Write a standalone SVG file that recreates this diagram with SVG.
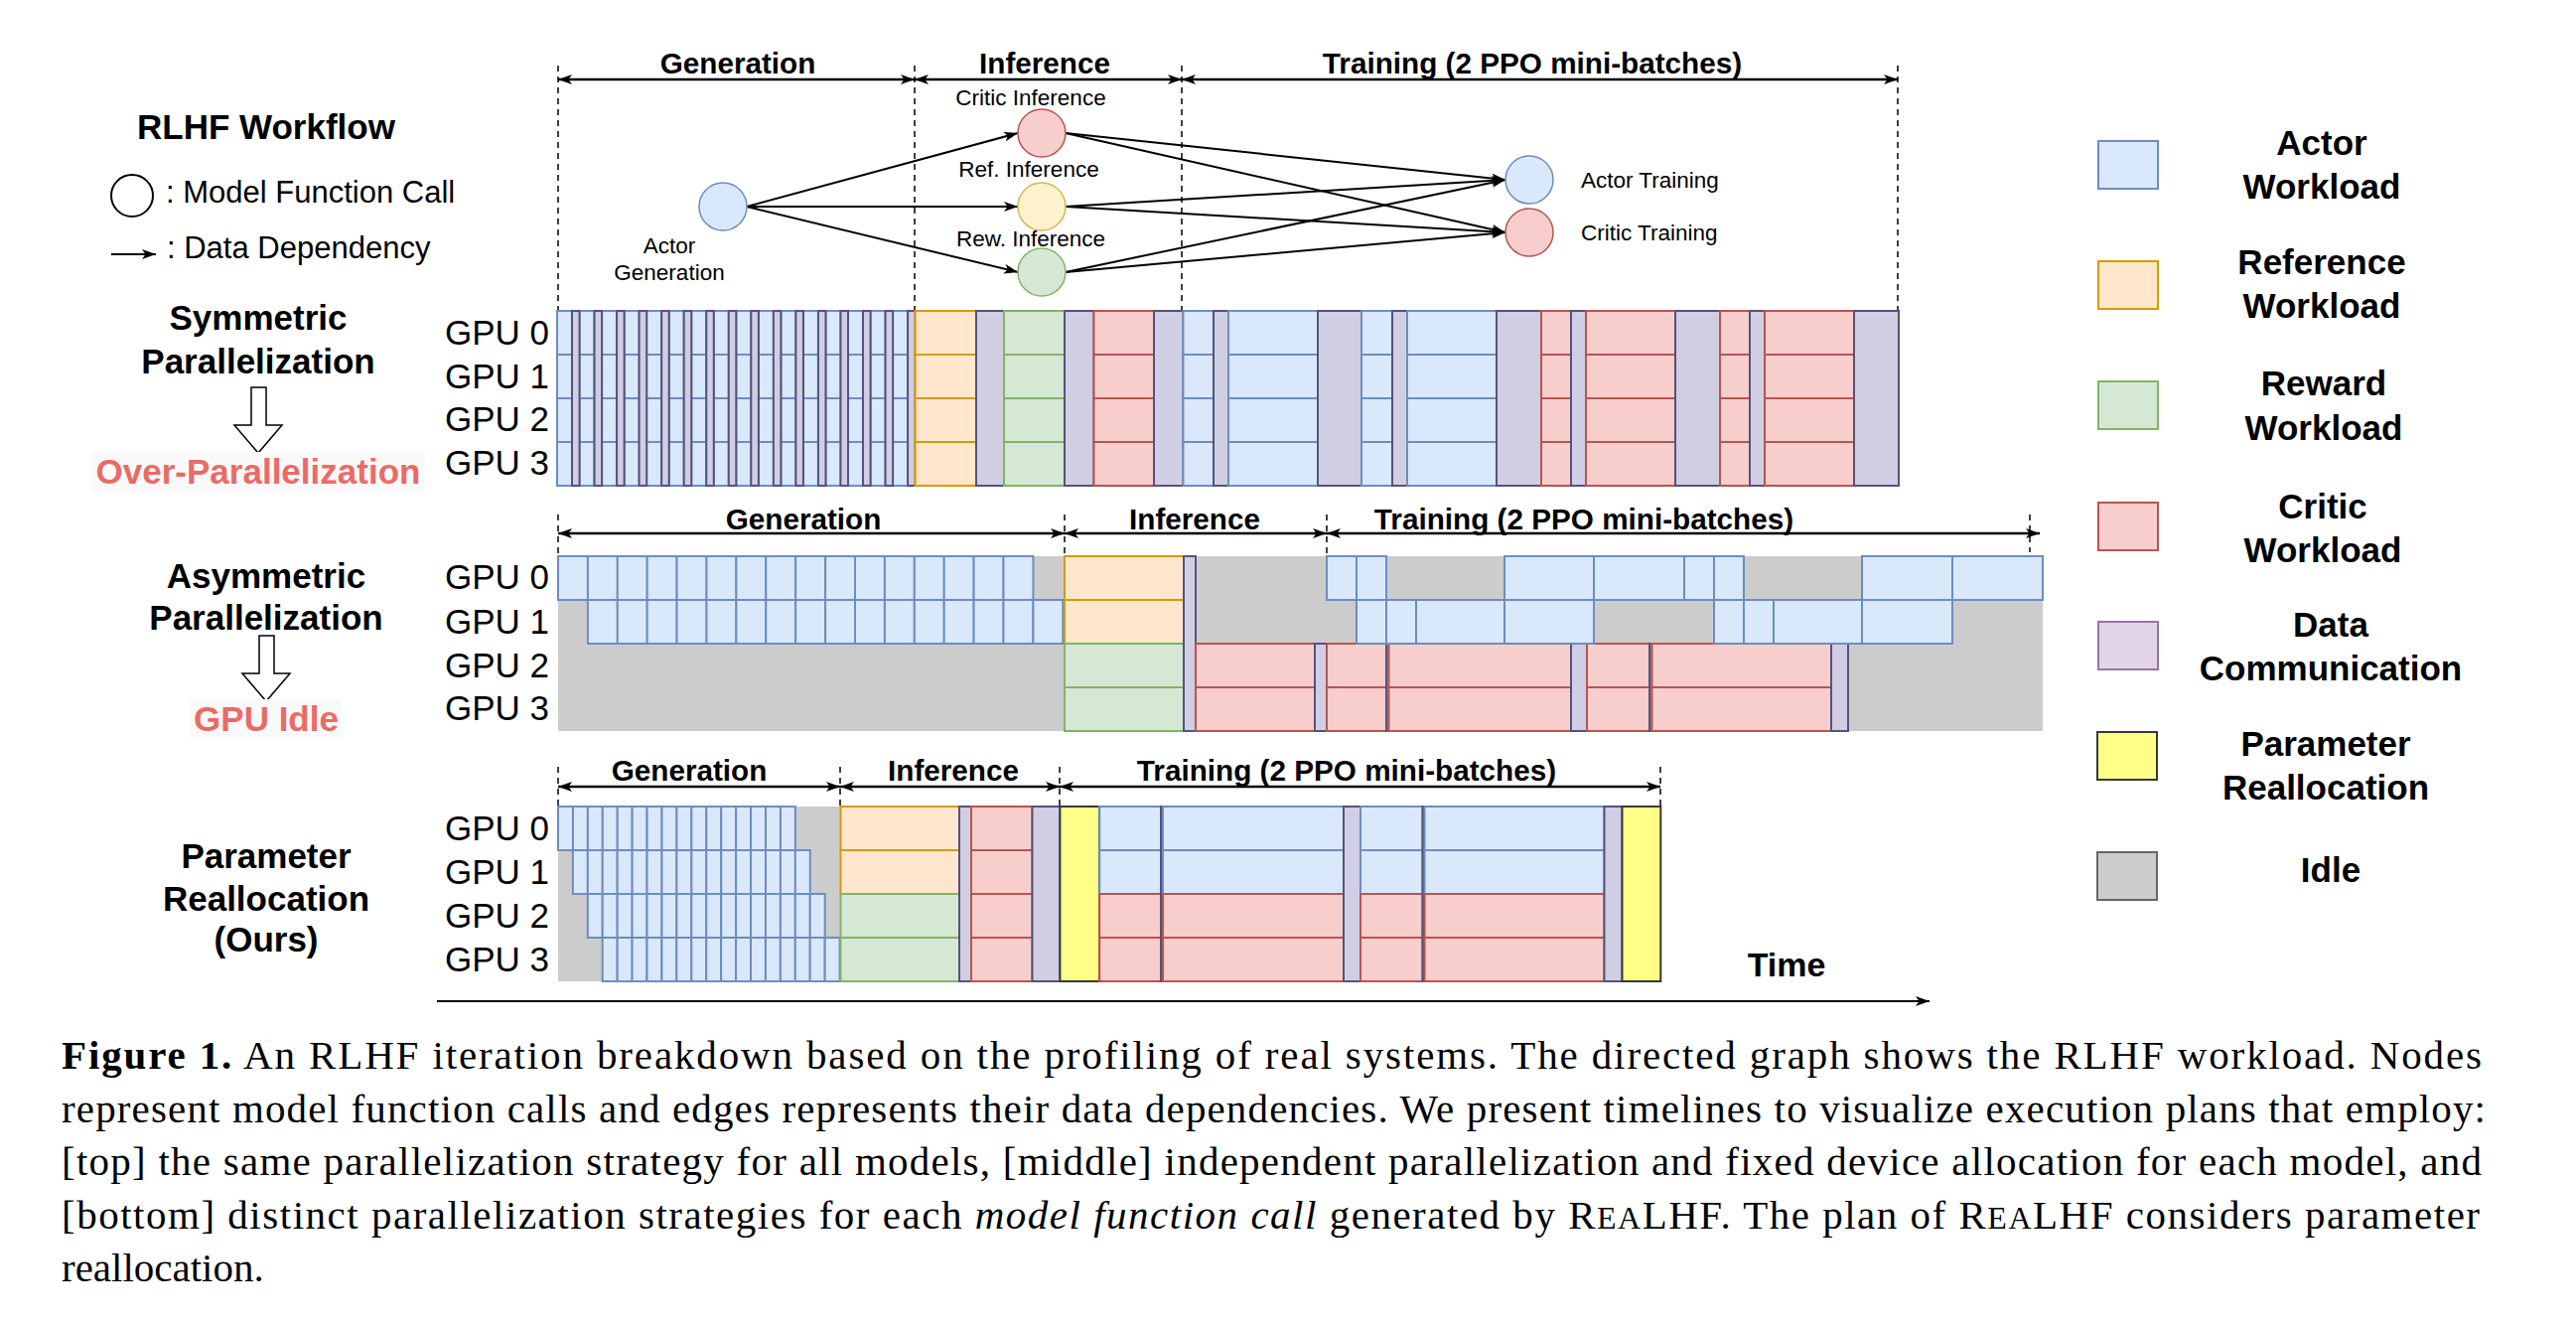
<svg xmlns="http://www.w3.org/2000/svg" xmlns:xlink="http://www.w3.org/1999/xlink" width="2594" height="1334" viewBox="0 0 2594 1334">
<style>
text{font-family:"Liberation Sans",Arial,sans-serif;fill:#000}
.hb{font-weight:bold;font-size:29.7px;text-anchor:middle}
.lb{font-weight:bold;font-size:35px;text-anchor:middle}
.red{fill:#EA6B66}
.gpu{font-size:35px}
.nl{font-size:22.5px}
.nlm{font-size:22.5px;text-anchor:middle}
.cap{font-family:"Liberation Serif","Times New Roman",serif;font-size:41px}
.a{fill:#dae8fc;stroke:#6c8ebf;stroke-width:2}
.r{fill:#ffe6cc;stroke:#d79b00;stroke-width:2}
.g{fill:#d5e8d4;stroke:#82b366;stroke-width:2}
.c{fill:#f8cecc;stroke:#b85450;stroke-width:2}
.d{fill:#d0cee2;stroke:#56517e;stroke-width:2}
.p{fill:#ffff88;stroke:#36393d;stroke-width:2}
.i{fill:#cccccc;stroke:none}
.dash{stroke:#000;stroke-width:1.5;stroke-dasharray:6 5;fill:none}
.hdr{stroke:#000;stroke-width:2.5;fill:none;marker-start:url(#ah);marker-end:url(#ah)}
.edge{stroke:#000;stroke-width:2;fill:none;marker-end:url(#ah)}
.hollow{fill:#fff;stroke:#000;stroke-width:1.5}
</style>
<defs>
<marker id="ah" viewBox="0 0 14 10" refX="14" refY="5" markerWidth="14" markerHeight="10" markerUnits="userSpaceOnUse" orient="auto-start-reverse"><path d="M0,0 L14,5 L0,10 L3.5,5 Z" fill="#000"/></marker>
<g id="b4"><rect class="a" x="0" y="313" width="15" height="44"/><rect class="a" x="0" y="357" width="15" height="44"/><rect class="a" x="0" y="401" width="15" height="44"/><rect class="a" x="0" y="445" width="15" height="44"/></g>
<g id="row2cells"><rect class="a" x="0" y="0" width="29.9" height="44"/><rect class="a" x="29.9" y="0" width="29.9" height="44"/><rect class="a" x="59.8" y="0" width="29.9" height="44"/><rect class="a" x="89.7" y="0" width="29.9" height="44"/><rect class="a" x="119.6" y="0" width="29.9" height="44"/><rect class="a" x="149.5" y="0" width="29.9" height="44"/><rect class="a" x="179.4" y="0" width="29.9" height="44"/><rect class="a" x="209.3" y="0" width="29.9" height="44"/><rect class="a" x="239.2" y="0" width="29.9" height="44"/><rect class="a" x="269.1" y="0" width="29.9" height="44"/><rect class="a" x="299" y="0" width="29.9" height="44"/><rect class="a" x="328.9" y="0" width="29.9" height="44"/><rect class="a" x="358.8" y="0" width="29.9" height="44"/><rect class="a" x="388.7" y="0" width="29.9" height="44"/><rect class="a" x="418.6" y="0" width="29.9" height="44"/><rect class="a" x="448.5" y="0" width="29.9" height="44"/></g>
<g id="row3cells"><rect class="a" x="0" y="0" width="14.93" height="44"/><rect class="a" x="14.93" y="0" width="14.93" height="44"/><rect class="a" x="29.86" y="0" width="14.93" height="44"/><rect class="a" x="44.79" y="0" width="14.93" height="44"/><rect class="a" x="59.72" y="0" width="14.93" height="44"/><rect class="a" x="74.65" y="0" width="14.93" height="44"/><rect class="a" x="89.58" y="0" width="14.93" height="44"/><rect class="a" x="104.51" y="0" width="14.93" height="44"/><rect class="a" x="119.44" y="0" width="14.93" height="44"/><rect class="a" x="134.37" y="0" width="14.93" height="44"/><rect class="a" x="149.3" y="0" width="14.93" height="44"/><rect class="a" x="164.23" y="0" width="14.93" height="44"/><rect class="a" x="179.16" y="0" width="14.93" height="44"/><rect class="a" x="194.09" y="0" width="14.93" height="44"/><rect class="a" x="209.02" y="0" width="14.93" height="44"/><rect class="a" x="223.95" y="0" width="14.93" height="44"/></g>
</defs>
<rect x="0" y="0" width="2594" height="1334" fill="#fff"/>

<!-- Left legend -->
<g id="legend-left">
<text x="268" y="140" style="font-weight:bold;font-size:35px;text-anchor:middle">RLHF Workflow</text>
<circle cx="133" cy="197" r="21" fill="none" stroke="#000" stroke-width="2"/>
<text x="167" y="204" style="font-size:31px">: Model Function Call</text>
<line x1="112" y1="256" x2="157" y2="256" class="edge"/>
<text x="168" y="260" style="font-size:31px">: Data Dependency</text>
</g>

<!-- Row labels -->
<g id="label-symmetric">
<text class="lb" x="260" y="332">Symmetric</text>
<text class="lb" x="260" y="376">Parallelization</text>
<path class="hollow" d="M253,390 L268,390 L268,428 L284,428 L260,456 L236,428 L253,428 Z"/>
<rect x="92" y="455" width="336" height="40" fill="#f9f9f9"/>
<text class="lb red" x="260" y="487">Over-Parallelization</text>
</g>
<g id="label-asymmetric">
<text class="lb" x="268" y="592">Asymmetric</text>
<text class="lb" x="268" y="634">Parallelization</text>
<path class="hollow" d="M261,640 L276,640 L276,678 L292,678 L268,706 L244,678 L261,678 Z"/>
<rect x="192" y="704" width="152" height="40" fill="#f9f9f9"/>
<text class="lb red" x="268" y="736">GPU Idle</text>
</g>
<g id="label-realloc">
<text class="lb" x="268" y="874">Parameter</text>
<text class="lb" x="268" y="917">Reallocation</text>
<text class="lb" x="268" y="958">(Ours)</text>
</g>
<g id="gpu-labels">
<text class="gpu" x="448" y="347">GPU 0</text>
<text class="gpu" x="448" y="391">GPU 1</text>
<text class="gpu" x="448" y="434">GPU 2</text>
<text class="gpu" x="448" y="478">GPU 3</text>
<text class="gpu" x="448" y="593">GPU 0</text>
<text class="gpu" x="448" y="638">GPU 1</text>
<text class="gpu" x="448" y="682">GPU 2</text>
<text class="gpu" x="448" y="725">GPU 3</text>
<text class="gpu" x="448" y="846">GPU 0</text>
<text class="gpu" x="448" y="890">GPU 1</text>
<text class="gpu" x="448" y="934">GPU 2</text>
<text class="gpu" x="448" y="978">GPU 3</text>
</g>

<!-- Phase headers -->
<g id="headers">
<line class="dash" x1="562" y1="66" x2="562" y2="313"/>
<line class="dash" x1="921" y1="66" x2="921" y2="313"/>
<line class="dash" x1="1190" y1="66" x2="1190" y2="313"/>
<line class="dash" x1="1911" y1="66" x2="1911" y2="313"/>
<line class="hdr" x1="562" y1="80" x2="921" y2="80"/>
<line class="hdr" x1="921" y1="80" x2="1190" y2="80"/>
<line class="hdr" x1="1190" y1="80" x2="1911" y2="80"/>
<text class="hb" x="743" y="74">Generation</text>
<text class="hb" x="1052" y="74">Inference</text>
<text class="hb" x="1543" y="74">Training (2 PPO mini-batches)</text>

<line class="dash" x1="562" y1="518" x2="562" y2="560"/>
<line class="dash" x1="1072" y1="518" x2="1072" y2="560"/>
<line class="dash" x1="1336" y1="518" x2="1336" y2="560"/>
<line class="dash" x1="2044" y1="518" x2="2044" y2="556"/>
<line class="hdr" x1="562" y1="537" x2="1072" y2="537"/>
<line class="hdr" x1="1072" y1="537" x2="1336" y2="537"/>
<line class="hdr" x1="1336" y1="537" x2="2054" y2="537"/>
<text class="hb" x="809" y="533">Generation</text>
<text class="hb" x="1203" y="533">Inference</text>
<text class="hb" x="1595" y="533">Training (2 PPO mini-batches)</text>

<line class="dash" x1="562" y1="772" x2="562" y2="812"/>
<line class="dash" x1="846" y1="772" x2="846" y2="812"/>
<line class="dash" x1="1067" y1="772" x2="1067" y2="812"/>
<line class="dash" x1="1672" y1="772" x2="1672" y2="812"/>
<line class="hdr" x1="562" y1="792" x2="846" y2="792"/>
<line class="hdr" x1="846" y1="792" x2="1067" y2="792"/>
<line class="hdr" x1="1067" y1="792" x2="1672" y2="792"/>
<text class="hb" x="694" y="786">Generation</text>
<text class="hb" x="960" y="786">Inference</text>
<text class="hb" x="1356" y="786">Training (2 PPO mini-batches)</text>
</g>

<!-- Graph connectors -->
<g id="connectors">
<line class="edge" x1="752" y1="208" x2="1025" y2="134"/>
<line class="edge" x1="752" y1="208" x2="1025" y2="208"/>
<line class="edge" x1="752" y1="208" x2="1025" y2="274"/>
<line class="edge" x1="1073" y1="134" x2="1516" y2="181"/>
<line class="edge" x1="1073" y1="134" x2="1516" y2="234"/>
<line class="edge" x1="1073" y1="208" x2="1516" y2="181"/>
<line class="edge" x1="1073" y1="208" x2="1516" y2="234"/>
<line class="edge" x1="1073" y1="274" x2="1516" y2="181"/>
<line class="edge" x1="1073" y1="274" x2="1516" y2="234"/>
</g>

<!-- Graph nodes -->
<g id="node-actor-gen"><circle cx="728" cy="208" r="24" fill="#dae8fc" stroke="#6c8ebf" stroke-width="1.5"/><text class="nlm" x="674" y="255">Actor</text><text class="nlm" x="674" y="282">Generation</text></g>
<g id="node-critic-inf"><circle cx="1049" cy="134" r="24" fill="#f8cecc" stroke="#b85450" stroke-width="1.5"/><text class="nlm" x="1038" y="106">Critic Inference</text></g>
<g id="node-ref-inf"><circle cx="1049" cy="208" r="24" fill="#fff2cc" stroke="#d6b656" stroke-width="1.5"/><text class="nlm" x="1036" y="178">Ref. Inference</text></g>
<g id="node-rew-inf"><circle cx="1049" cy="274" r="24" fill="#d5e8d4" stroke="#82b366" stroke-width="1.5"/><text class="nlm" x="1038" y="248">Rew. Inference</text></g>
<g id="node-actor-train"><circle cx="1540" cy="181" r="24" fill="#dae8fc" stroke="#6c8ebf" stroke-width="1.5"/><text class="nl" x="1592" y="189">Actor Training</text></g>
<g id="node-critic-train"><circle cx="1540" cy="234" r="24" fill="#f8cecc" stroke="#b85450" stroke-width="1.5"/><text class="nl" x="1592" y="242">Critic Training</text></g>

<!-- Timeline 1: Symmetric -->
<g id="timeline-symmetric">
<use href="#b4" x="561"/><use href="#b4" x="583.54"/><use href="#b4" x="606.08"/><use href="#b4" x="628.62"/><use href="#b4" x="651.16"/><use href="#b4" x="673.7"/><use href="#b4" x="696.24"/><use href="#b4" x="718.78"/><use href="#b4" x="741.32"/><use href="#b4" x="763.86"/><use href="#b4" x="786.4"/><use href="#b4" x="808.94"/><use href="#b4" x="831.48"/><use href="#b4" x="854.02"/><use href="#b4" x="876.56"/><use href="#b4" x="899.1"/>
<rect class="d" x="576" y="313" width="7.54" height="176"/><rect class="d" x="598.54" y="313" width="7.54" height="176"/><rect class="d" x="621.08" y="313" width="7.54" height="176"/><rect class="d" x="643.62" y="313" width="7.54" height="176"/><rect class="d" x="666.16" y="313" width="7.54" height="176"/><rect class="d" x="688.7" y="313" width="7.54" height="176"/><rect class="d" x="711.24" y="313" width="7.54" height="176"/><rect class="d" x="733.78" y="313" width="7.54" height="176"/><rect class="d" x="756.32" y="313" width="7.54" height="176"/><rect class="d" x="778.86" y="313" width="7.54" height="176"/><rect class="d" x="801.4" y="313" width="7.54" height="176"/><rect class="d" x="823.94" y="313" width="7.54" height="176"/><rect class="d" x="846.48" y="313" width="7.54" height="176"/><rect class="d" x="869.02" y="313" width="7.54" height="176"/><rect class="d" x="891.56" y="313" width="7.54" height="176"/><rect class="d" x="914.1" y="313" width="7.54" height="176"/>
<rect class="r" x="921.6" y="313" width="61.4" height="44"/><rect class="r" x="921.6" y="357" width="61.4" height="44"/><rect class="r" x="921.6" y="401" width="61.4" height="44"/><rect class="r" x="921.6" y="445" width="61.4" height="44"/>
<rect class="d" x="983" y="313" width="28" height="176"/>
<rect class="g" x="1011" y="313" width="61" height="44"/><rect class="g" x="1011" y="357" width="61" height="44"/><rect class="g" x="1011" y="401" width="61" height="44"/><rect class="g" x="1011" y="445" width="61" height="44"/>
<rect class="d" x="1072" y="313" width="29.5" height="176"/>
<rect class="c" x="1101.5" y="313" width="60.5" height="44"/><rect class="c" x="1101.5" y="357" width="60.5" height="44"/><rect class="c" x="1101.5" y="401" width="60.5" height="44"/><rect class="c" x="1101.5" y="445" width="60.5" height="44"/>
<rect class="d" x="1162" y="313" width="29.5" height="176"/>
<rect class="a" x="1191.5" y="313" width="30.5" height="44"/><rect class="a" x="1191.5" y="357" width="30.5" height="44"/><rect class="a" x="1191.5" y="401" width="30.5" height="44"/><rect class="a" x="1191.5" y="445" width="30.5" height="44"/>
<rect class="d" x="1222" y="313" width="15" height="176"/>
<rect class="a" x="1237" y="313" width="90" height="44"/><rect class="a" x="1237" y="357" width="90" height="44"/><rect class="a" x="1237" y="401" width="90" height="44"/><rect class="a" x="1237" y="445" width="90" height="44"/>
<rect class="d" x="1327" y="313" width="44" height="176"/>
<rect class="a" x="1371" y="313" width="31" height="44"/><rect class="a" x="1371" y="357" width="31" height="44"/><rect class="a" x="1371" y="401" width="31" height="44"/><rect class="a" x="1371" y="445" width="31" height="44"/>
<rect class="d" x="1402" y="313" width="15" height="176"/>
<rect class="a" x="1417" y="313" width="90" height="44"/><rect class="a" x="1417" y="357" width="90" height="44"/><rect class="a" x="1417" y="401" width="90" height="44"/><rect class="a" x="1417" y="445" width="90" height="44"/>
<rect class="d" x="1507" y="313" width="45" height="176"/>
<rect class="c" x="1552" y="313" width="30" height="44"/><rect class="c" x="1552" y="357" width="30" height="44"/><rect class="c" x="1552" y="401" width="30" height="44"/><rect class="c" x="1552" y="445" width="30" height="44"/>
<rect class="d" x="1582" y="313" width="15" height="176"/>
<rect class="c" x="1597" y="313" width="90" height="44"/><rect class="c" x="1597" y="357" width="90" height="44"/><rect class="c" x="1597" y="401" width="90" height="44"/><rect class="c" x="1597" y="445" width="90" height="44"/>
<rect class="d" x="1687" y="313" width="45" height="176"/>
<rect class="c" x="1732" y="313" width="30" height="44"/><rect class="c" x="1732" y="357" width="30" height="44"/><rect class="c" x="1732" y="401" width="30" height="44"/><rect class="c" x="1732" y="445" width="30" height="44"/>
<rect class="d" x="1762" y="313" width="15" height="176"/>
<rect class="c" x="1777" y="313" width="90" height="44"/><rect class="c" x="1777" y="357" width="90" height="44"/><rect class="c" x="1777" y="401" width="90" height="44"/><rect class="c" x="1777" y="445" width="90" height="44"/>
<rect class="d" x="1867" y="313" width="45" height="176"/>
</g>

<!-- Timeline 2: Asymmetric -->
<g id="timeline-asymmetric">
<rect class="i" x="562" y="560" width="1495" height="176"/>
<use href="#row2cells" transform="translate(562,560)"/>
<use href="#row2cells" transform="translate(591.9,604)"/>
<rect class="r" x="1072" y="560" width="120" height="44"/><rect class="r" x="1072" y="604" width="120" height="44"/>
<rect class="g" x="1072" y="648" width="120" height="44"/><rect class="g" x="1072" y="692" width="120" height="44"/>
<rect class="d" x="1192" y="560" width="12" height="176"/>
<rect class="c" x="1204" y="648" width="120" height="44"/><rect class="c" x="1204" y="692" width="120" height="44"/>
<rect class="d" x="1324" y="648" width="12" height="88"/>
<rect class="c" x="1336" y="648" width="60" height="44"/><rect class="c" x="1336" y="692" width="60" height="44"/>
<rect class="d" x="1396" y="648" width="2.5" height="88"/>
<rect class="c" x="1398.5" y="648" width="183.5" height="44"/><rect class="c" x="1398.5" y="692" width="183.5" height="44"/>
<rect class="d" x="1582" y="648" width="16" height="88"/>
<rect class="c" x="1598" y="648" width="63" height="44"/><rect class="c" x="1598" y="692" width="63" height="44"/>
<rect class="d" x="1661" y="648" width="2.5" height="88"/>
<rect class="c" x="1663.5" y="648" width="180.5" height="44"/><rect class="c" x="1663.5" y="692" width="180.5" height="44"/>
<rect class="d" x="1844" y="648" width="17" height="88"/>
<rect class="a" x="1336" y="560" width="30" height="44"/><rect class="a" x="1366" y="560" width="30" height="44"/><rect class="a" x="1515" y="560" width="90" height="44"/><rect class="a" x="1605" y="560" width="91" height="44"/><rect class="a" x="1696" y="560" width="30" height="44"/><rect class="a" x="1726" y="560" width="30" height="44"/><rect class="a" x="1875" y="560" width="91" height="44"/><rect class="a" x="1966" y="560" width="91" height="44"/>
<rect class="a" x="1366" y="604" width="30" height="44"/><rect class="a" x="1396" y="604" width="30" height="44"/><rect class="a" x="1426" y="604" width="89" height="44"/><rect class="a" x="1515" y="604" width="90" height="44"/><rect class="a" x="1726" y="604" width="30" height="44"/><rect class="a" x="1756" y="604" width="30" height="44"/><rect class="a" x="1786" y="604" width="89" height="44"/><rect class="a" x="1875" y="604" width="91" height="44"/>
</g>

<!-- Timeline 3: Parameter Reallocation -->
<g id="timeline-realloc">
<rect class="i" x="562" y="812" width="284.5" height="176"/>
<use href="#row3cells" transform="translate(562,812)"/>
<use href="#row3cells" transform="translate(576.9,856)"/>
<use href="#row3cells" transform="translate(591.8,900)"/>
<use href="#row3cells" transform="translate(606.7,944)"/>
<rect class="r" x="846.5" y="812" width="119.5" height="44"/><rect class="r" x="846.5" y="856" width="119.5" height="44"/>
<rect class="g" x="846.5" y="900" width="119.5" height="44"/><rect class="g" x="846.5" y="944" width="119.5" height="44"/>
<rect class="d" x="966" y="812" width="12" height="176"/>
<rect class="c" x="978" y="812" width="61.5" height="44"/><rect class="c" x="978" y="856" width="61.5" height="44"/><rect class="c" x="978" y="900" width="61.5" height="44"/><rect class="c" x="978" y="944" width="61.5" height="44"/>
<rect class="d" x="1039.5" y="812" width="27.9" height="176"/>
<rect class="p" x="1067.4" y="812" width="39.8" height="176"/>
<rect class="a" x="1107.2" y="812" width="61.8" height="44"/><rect class="a" x="1107.2" y="856" width="61.8" height="44"/>
<rect class="c" x="1107.2" y="900" width="61.8" height="44"/><rect class="c" x="1107.2" y="944" width="61.8" height="44"/>
<rect class="d" x="1169" y="812" width="2" height="176"/>
<rect class="a" x="1171" y="812" width="182" height="44"/><rect class="a" x="1171" y="856" width="182" height="44"/>
<rect class="c" x="1171" y="900" width="182" height="44"/><rect class="c" x="1171" y="944" width="182" height="44"/>
<rect class="d" x="1353" y="812" width="17" height="176"/>
<rect class="a" x="1370" y="812" width="62.5" height="44"/><rect class="a" x="1370" y="856" width="62.5" height="44"/>
<rect class="c" x="1370" y="900" width="62.5" height="44"/><rect class="c" x="1370" y="944" width="62.5" height="44"/>
<rect class="d" x="1432.5" y="812" width="2" height="176"/>
<rect class="a" x="1434.5" y="812" width="181" height="44"/><rect class="a" x="1434.5" y="856" width="181" height="44"/>
<rect class="c" x="1434.5" y="900" width="181" height="44"/><rect class="c" x="1434.5" y="944" width="181" height="44"/>
<rect class="d" x="1615.5" y="812" width="18" height="176"/>
<rect class="p" x="1633.5" y="812" width="38.8" height="176"/>
</g>

<!-- Time axis -->
<g id="time-axis">
<line x1="440" y1="1008" x2="1943" y2="1008" stroke="#000" stroke-width="2" marker-end="url(#ah)"/>
<text x="1799" y="983" style="font-weight:bold;font-size:34px;text-anchor:middle">Time</text>
</g>

<!-- Right legend -->
<g id="legend-right">
<rect class="a" x="2113" y="142" width="60" height="48"/>
<text class="lb" x="2338" y="156">Actor</text><text class="lb" x="2338" y="200">Workload</text>
<rect class="r" x="2113" y="263" width="60" height="48"/>
<text class="lb" x="2338" y="276">Reference</text><text class="lb" x="2338" y="320">Workload</text>
<rect class="g" x="2113" y="384" width="60" height="48"/>
<text class="lb" x="2340" y="398">Reward</text><text class="lb" x="2340" y="443">Workload</text>
<rect class="c" x="2113" y="506" width="60" height="48"/>
<text class="lb" x="2339" y="522">Critic</text><text class="lb" x="2339" y="566">Workload</text>
<rect x="2113" y="626" width="60" height="48" fill="#e1d5e7" stroke="#9673a6" stroke-width="2"/>
<text class="lb" x="2347" y="641">Data</text><text class="lb" x="2347" y="685">Communication</text>
<rect class="p" x="2112" y="737" width="60" height="48"/>
<text class="lb" x="2342" y="761">Parameter</text><text class="lb" x="2342" y="805">Reallocation</text>
<rect x="2112" y="858" width="60" height="48" fill="#cccccc" stroke="#666666" stroke-width="2"/>
<text class="lb" x="2347" y="888">Idle</text>
</g>

<!-- Caption -->
<g id="caption">
<text class="cap" x="62" y="1076" textLength="2437" lengthAdjust="spacing"><tspan font-weight="bold">Figure 1.</tspan> An RLHF iteration breakdown based on the profiling of real systems. The directed graph shows the RLHF workload. Nodes</text>
<text class="cap" x="62" y="1129.5" textLength="2441" lengthAdjust="spacing">represent model function calls and edges represents their data dependencies. We present timelines to visualize execution plans that employ:</text>
<text class="cap" x="62" y="1183" textLength="2437" lengthAdjust="spacing">[top] the same parallelization strategy for all models, [middle] independent parallelization and fixed device allocation for each model, and</text>
<text class="cap" x="62" y="1236.5" textLength="2435" lengthAdjust="spacing">[bottom] distinct parallelization strategies for each <tspan font-style="italic">model function call</tspan> generated by R<tspan font-size="32">EA</tspan>LHF. The plan of R<tspan font-size="32">EA</tspan>LHF considers parameter</text>
<text class="cap" x="62" y="1290">reallocation.</text>
</g>
</svg>
